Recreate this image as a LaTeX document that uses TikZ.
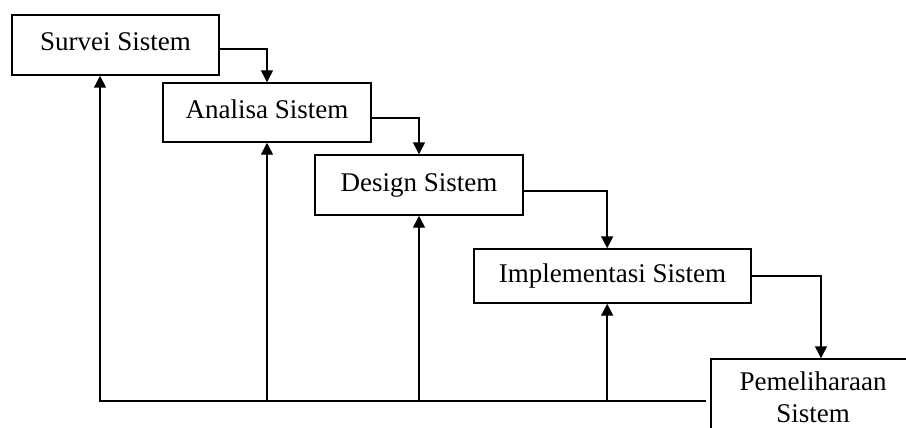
\documentclass[tikz,border=0pt]{standalone}
\usepackage{fontspec}
\setmainfont{Liberation Serif}
\usetikzlibrary{arrows.meta,positioning}

\tikzset{
	stagebox/.style={draw,rectangle,line width=1.1pt,inner sep=0pt,font=\fontsize{20.25}{24}\selectfont},
	oneline/.style={text height=13.5pt,text depth=4.5pt},
	flow/.style={-{Triangle[length=9pt,width=9pt]},line width=1.1pt},
}

\begin{document}
\begin{tikzpicture}[x=0.75pt,y=-0.75pt]
	\useasboundingbox (0,0) rectangle (906,428);
	\clip (0,0) rectangle (906,428);
	
	% Stage 1 - 4: the steps down the waterfall
	\node[stagebox,oneline,minimum width=155.25pt,minimum height=45pt] (survei) at (115.5,45) {Survei Sistem};
	\node[stagebox,oneline,minimum width=156pt,minimum height=44.25pt] (analisa) at (267,112.5) {Analisa Sistem};
	\node[stagebox,oneline,minimum width=156pt,minimum height=45pt] (design) at (419,185) {Design Sistem};
	\node[stagebox,oneline,minimum width=207.75pt,minimum height=40.5pt] (implementasi) at (612.5,276) {Implementasi Sistem};
	
	% Stage 5: runs past the page edge
	\node[stagebox,align=center,text depth=4.5pt,minimum width=153pt,minimum height=61.5pt] (pemeliharaan) at (813,400) {Pemeliharaan\\Sistem};
	
	% arrows down
	\draw[flow] ([yshift=-3pt]survei.east) -| (analisa.north);
	\draw[flow] ([yshift=-4pt]analisa.east) -| (design.north);
	\draw[flow] ([yshift=-4.5pt]design.east) -| ([xshift=-4pt]implementasi.north);
	\draw[flow] (implementasi.east) -| ([xshift=6pt]pemeliharaan.north);
	
	% feedback line along the bottom
	\coordinate (loopend) at (706,401);
	\draw[flow] (loopend) -| ([xshift=-11.6pt]survei.south);
	\foreach \n in {analisa,design}
		\draw[flow] (\n.south |- loopend) -- (\n.south);
	\draw[flow] ([xshift=-4pt]implementasi.south |- loopend) -- ([xshift=-4pt]implementasi.south);
\end{tikzpicture}
\end{document}
